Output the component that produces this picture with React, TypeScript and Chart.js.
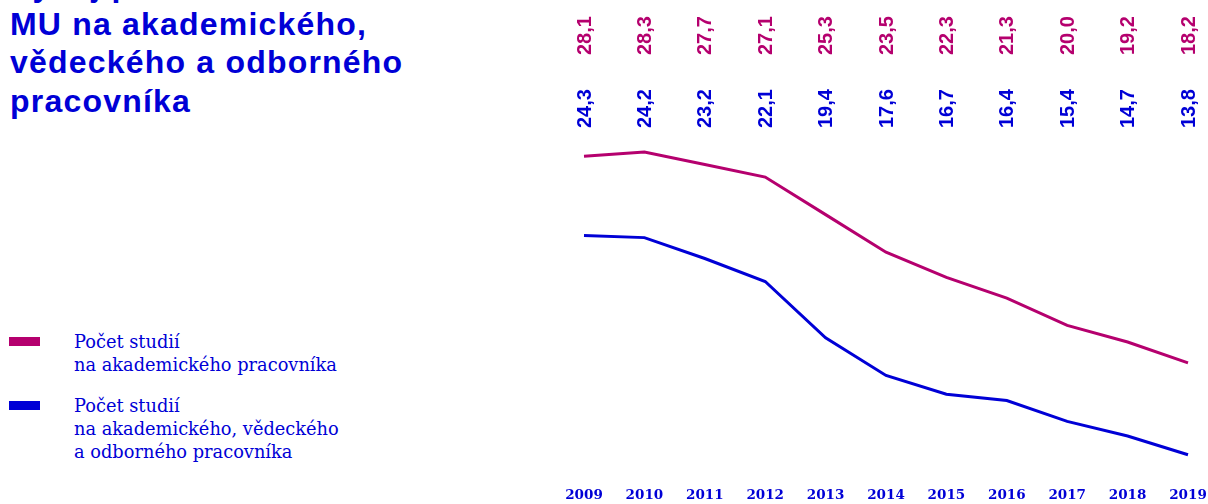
import React, { useEffect, useRef } from "react";
import { Chart, registerables } from "chart.js";

Chart.register(...registerables);

const years = ["2009", "2010", "2011", "2012", "2013", "2014", "2015", "2016", "2017", "2018", "2019"];
const academic = [28.1, 28.3, 27.7, 27.1, 25.3, 23.5, 22.3, 21.3, 20.0, 19.2, 18.2];
const allStaff = [24.3, 24.2, 23.2, 22.1, 19.4, 17.6, 16.7, 16.4, 15.4, 14.7, 13.8];

const MAGENTA = "#b5006e";
const BLUE = "#0000d6";

const titleLines = ["Vývoj počtu studií na", "MU na akademického,", "vědeckého a odborného", "pracovníka"];
const legendItems = [
  { color: MAGENTA, lines: ["Počet studií", "na akademického pracovníka"] },
  { color: BLUE, lines: ["Počet studií", "na akademického, vědeckého", "a odborného pracovníka"] },
];

const fmt = (v: number) => v.toFixed(1).replace(".", ",");

const valueLabels = {
  id: "valueLabels",
  afterDatasetsDraw(chart: any) {
    const ctx = chart.ctx;
    const xs = chart.scales.x;
    const rows = [
      { data: academic, color: MAGENTA, y: 55 },
      { data: allStaff, color: BLUE, y: 128 },
    ];
    ctx.save();
    ctx.font = "bold 20px 'Liberation Sans', Arial, sans-serif";
    ctx.textAlign = "left";
    ctx.textBaseline = "middle";
    rows.forEach((r) => {
      ctx.fillStyle = r.color;
      r.data.forEach((v, i) => {
        const x = xs.getPixelForValue(i);
        ctx.save();
        ctx.translate(x, r.y);
        ctx.rotate(-Math.PI / 2);
        ctx.fillText(fmt(v), 0, 1);
        ctx.restore();
      });
    });
    ctx.restore();
  },
};

export default function App() {
  const ref = useRef<HTMLCanvasElement>(null);
  useEffect(() => {
    if (!ref.current) return;
    const chart = new Chart(ref.current, {
      type: "line",
      data: {
        labels: years,
        datasets: [
          { data: academic, borderColor: MAGENTA, borderWidth: 3, pointRadius: 0, tension: 0, clip: false as any },
          { data: allStaff, borderColor: BLUE, borderWidth: 3, pointRadius: 0, tension: 0, clip: false as any },
        ],
      },
      options: {
        animation: false,
        responsive: false,
        devicePixelRatio: 1,
        layout: { padding: { top: 152, left: 44, right: 20, bottom: 0 } },
        plugins: { legend: { display: false }, tooltip: { enabled: false }, title: { display: false } },
        scales: {
          x: {
            type: "category",
            offset: false,
            grid: {
              display: true,
              drawOnChartArea: false,
              drawTicks: true,
              tickLength: 33,
              tickColor: "rgba(0,0,0,0)",
            },
            border: { display: false },
            ticks: {
              padding: 0,
              color: BLUE,
              maxRotation: 0,
              autoSkip: false,
              font: { family: "'DejaVu Serif', serif", weight: "bold", size: 13.5 },
            },
          },
          y: { display: false, min: 13.8, max: 28.3 },
        },
      },
      plugins: [valueLabels],
    });
    return () => chart.destroy();
  }, []);

  return (
    <div style={{ position: "fixed", left: 0, top: 0, width: 1208, height: 504, overflow: "hidden", background: "#fff" }}>
      <div
        style={{
          position: "absolute",
          left: 10,
          top: -34,
          fontFamily: "'Liberation Sans', Arial, sans-serif",
          fontWeight: "bold",
          fontSize: 32,
          letterSpacing: "1.2px",
          lineHeight: "38.5px",
          color: BLUE,
          whiteSpace: "nowrap",
        }}
      >
        {titleLines.map((l, i) => (
          <div key={i}>{l}</div>
        ))}
      </div>
      {legendItems.map((item, k) => (
        <div key={k} style={{ position: "absolute", left: 0, top: k === 0 ? 330 : 394 }}>
          <div style={{ position: "absolute", left: 9, top: 7, width: 31, height: 9, background: item.color }} />
          <div
            style={{
              position: "absolute",
              left: 74,
              top: 0,
              fontFamily: "'DejaVu Serif', serif",
              fontSize: 17.8,
              lineHeight: "23px",
              color: BLUE,
              whiteSpace: "nowrap",
            }}
          >
            {item.lines.map((l, i) => (
              <div key={i}>{l}</div>
            ))}
          </div>
        </div>
      ))}
      <canvas ref={ref} width={668} height={504} style={{ position: "absolute", left: 540, top: 0 }} />
    </div>
  );
}
